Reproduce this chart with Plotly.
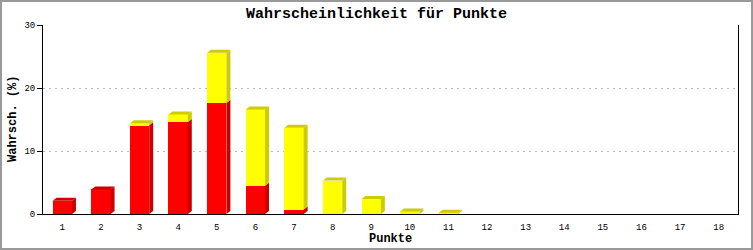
import plotly.graph_objects as go

# ---- data ----
categories = list(range(1, 19))
tick_labels = [str(c) for c in categories]
red_values = [2.1, 3.9, 14.1, 14.6, 17.6, 4.5, 0.7, 0, 0, 0, 0, 0, 0, 0, 0, 0, 0, 0]
yellow_values = [0, 0, 0.3, 1.2, 8.0, 12.1, 13.0, 5.3, 2.4, 0.4, 0.2, 0, 0, 0, 0, 0, 0, 0]

title_text = "Wahrscheinlichkeit für Punkte"
x_title = "Punkte"
y_title = "Wahrsch. (%)"

# ---- layout constants ----
WIDTH, HEIGHT = 753, 250
ML, MR, MT, MB = 43, 15, 25, 36
PW, PH = WIDTH - ML - MR, HEIGHT - MT - MB
X_RANGE = [0.5, 18.5]
Y_RANGE = [0, 30]
BAR_W = 0.5
DEPTH_X_PX, DEPTH_Y_PX = 4, 3
dx = DEPTH_X_PX * (X_RANGE[1] - X_RANGE[0]) / PW
dy = DEPTH_Y_PX * (Y_RANGE[1] - Y_RANGE[0]) / PH

RED, RED_DARK = "#FF0000", "#CC0000"
YEL, YEL_DARK = "#FFFF00", "#CCCC00"
FONT = "Liberation Mono"

fig = go.Figure()

# 3D side / top faces built from the data
def side_polys(bases, tops):
    xs, ys = [], []
    for c, b, t in zip(categories, bases, tops):
        if t - b <= 0:
            continue
        xr = c + BAR_W / 2
        xs += [xr, xr + dx, xr + dx, xr, xr, None]
        ys += [b, b + dy, t + dy, t, b, None]
    return xs, ys

def top_polys(tops, mask):
    xs, ys = [], []
    for c, t, m in zip(categories, tops, mask):
        if not m:
            continue
        xl, xr = c - BAR_W / 2, c + BAR_W / 2
        xs += [xl, xl + dx, xr + dx, xr, xl, None]
        ys += [t, t + dy, t + dy, t, t, None]
    return xs, ys

red_tops = red_values
tot_tops = [r + y for r, y in zip(red_values, yellow_values)]

fig.add_trace(go.Bar(x=categories, y=red_values, width=BAR_W, marker=dict(color=RED, line=dict(width=0)),
                     hoverinfo="skip", showlegend=False))
fig.add_trace(go.Bar(x=categories, y=yellow_values, width=BAR_W, marker=dict(color=YEL, line=dict(width=0)),
                     hoverinfo="skip", showlegend=False))

sx, sy = side_polys([0] * len(categories), red_tops)
fig.add_trace(go.Scatter(x=sx, y=sy, mode="lines", fill="toself", fillcolor=RED_DARK,
                         line=dict(width=0, color=RED_DARK), hoverinfo="skip", showlegend=False))
sx, sy = side_polys(red_tops, tot_tops)
fig.add_trace(go.Scatter(x=sx, y=sy, mode="lines", fill="toself", fillcolor=YEL_DARK,
                         line=dict(width=0, color=YEL_DARK), hoverinfo="skip", showlegend=False))
tx, ty = top_polys(red_tops, [r > 0 and y == 0 for r, y in zip(red_values, yellow_values)])
fig.add_trace(go.Scatter(x=tx, y=ty, mode="lines", fill="toself", fillcolor=RED_DARK,
                         line=dict(width=0, color=RED_DARK), hoverinfo="skip", showlegend=False))
tx, ty = top_polys(tot_tops, [y > 0 for y in yellow_values])
fig.add_trace(go.Scatter(x=tx, y=ty, mode="lines", fill="toself", fillcolor=YEL_DARK,
                         line=dict(width=0, color=YEL_DARK), hoverinfo="skip", showlegend=False))

fig.update_layout(
    width=WIDTH, height=HEIGHT,
    margin=dict(l=ML, r=MR, t=MT, b=MB, pad=0, autoexpand=False),
    barmode="stack",
    paper_bgcolor="white", plot_bgcolor="white",
    font=dict(family=FONT, color="black", size=8),
    title=dict(text="<b>" + title_text + "</b>", x=0.5, xanchor="center", y=1 - 13 / HEIGHT, yanchor="middle",
               font=dict(family=FONT, size=15, color="black")),
    xaxis=dict(range=X_RANGE, tickmode="array", tickvals=categories, ticktext=tick_labels,
               showgrid=False, zeroline=False, showline=True, linecolor="black", linewidth=1,
               ticks="", ticklabelstandoff=4, tickfont=dict(family=FONT, size=9),
               automargin=False, fixedrange=True),
    yaxis=dict(range=Y_RANGE, tickvals=[0, 10, 20, 30], showgrid=True, gridcolor="#BBBBBB",
               griddash="2px,4px", gridwidth=1, zeroline=False, showline=True, mirror=True,
               linecolor="black", linewidth=1, ticks="outside", ticklen=5, tickcolor="black",
               tickfont=dict(family=FONT, size=9), automargin=False, fixedrange=True),
    annotations=[
        dict(text="<b>" + x_title + "</b>", xref="paper", yref="paper", x=0.5, y=0,
             xanchor="center", yanchor="middle", yshift=-25, showarrow=False,
             font=dict(family=FONT, size=12, color="black")),
        dict(text="<b>" + y_title + "</b>", xref="paper", yref="paper", x=0, y=0.5,
             xanchor="center", yanchor="middle", xshift=-30.5, textangle=-90, showarrow=False,
             font=dict(family=FONT, size=12, color="black")),
    ],
    shapes=[dict(type="rect", xref="paper", yref="paper",
                 x0=(1 - ML) / PW, x1=1 + (MR - 1) / PW,
                 y0=-(MB - 1) / PH, y1=1 + (MT - 1) / PH,
                 line=dict(color="#999999", width=2), fillcolor="rgba(0,0,0,0)", layer="above")],
)

fig.write_html("out.html", config={"displayModeBar": False})
